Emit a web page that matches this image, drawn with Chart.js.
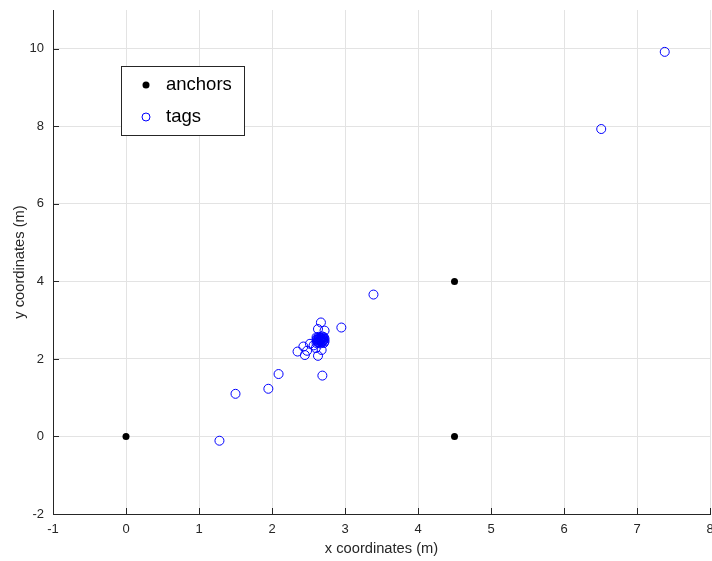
<!DOCTYPE html>
<html>
<head>
<meta charset="utf-8">
<title>anchors and tags</title>
<script src="https://cdn.jsdelivr.net/npm/chart.js@4/dist/chart.umd.min.js"></script>
<style>
  html, body { margin: 0; padding: 0; background: #fff; }
  #wrap { width: 712px; height: 561px; }
</style>
</head>
<body>
<div id="wrap"><canvas id="posChart" width="712" height="561"></canvas></div>
<script>
// Anchor positions (m)
const anchorX = [0, 4.5, 4.5];
const anchorY = [0, 0, 4];

// Tag estimates (m)
const tagX = [7.38, 6.51, 3.39, 2.95, 2.69, 2.09, 1.95, 1.50, 1.28,
    2.67, 2.63, 2.72, 2.43, 2.35, 2.45, 2.48, 2.52, 2.63, 2.68, 2.60, 2.57,
    // dense cluster
    2.61, 2.64, 2.66, 2.69, 2.71, 2.62, 2.65, 2.68, 2.70, 2.72,
    2.61, 2.63, 2.66, 2.68, 2.71, 2.62, 2.64, 2.67, 2.69, 2.72,
    2.61, 2.64, 2.66, 2.69, 2.71, 2.63, 2.65, 2.68, 2.70, 2.67];
const tagY = [9.92, 7.93, 3.66, 2.81, 1.57, 1.61, 1.23, 1.10, -0.11,
    2.94, 2.77, 2.73, 2.32, 2.19, 2.10, 2.21, 2.39, 2.08, 2.23, 2.28, 2.35,
    2.41, 2.42, 2.40, 2.43, 2.41, 2.45, 2.46, 2.44, 2.47, 2.45,
    2.49, 2.50, 2.48, 2.51, 2.49, 2.53, 2.52, 2.54, 2.53, 2.52,
    2.56, 2.57, 2.55, 2.58, 2.56, 2.43, 2.51, 2.47, 2.55, 2.50];

// Axis setup
const xMin = -1, xMax = 8, xStep = 1;
const yMin = -2, yMax = 11, yStep = 2;

const legendLabels = ['anchors', 'tags'];

const axisColor = '#262626';
const gridColor = '#e3e3e3';
const fontFamily = '"Liberation Sans", Arial, Helvetica, sans-serif';

function toPoints(xs, ys) {
    return xs.map((x, i) => ({ x: x, y: ys[i] }));
}

// MATLAB style inward tick marks
const innerTicks = {
    id: 'innerTicks',
    afterDatasetsDraw(chart) {
        const ctx = chart.ctx;
        const area = chart.chartArea;
        const xs = chart.scales.x, ys = chart.scales.y;
        ctx.save();
        ctx.strokeStyle = axisColor;
        ctx.lineWidth = 1;
        ctx.beginPath();
        xs.ticks.forEach(t => {
            const px = Math.round(xs.getPixelForValue(t.value)) + 0.5;
            ctx.moveTo(px, area.bottom);
            ctx.lineTo(px, area.bottom - 6);
        });
        ys.ticks.forEach(t => {
            const py = Math.round(ys.getPixelForValue(t.value)) + 0.5;
            ctx.moveTo(area.left, py);
            ctx.lineTo(area.left + 6, py);
        });
        ctx.stroke();
        ctx.restore();
    }
};

// Legend box inside the axes, upper left
const boxLegend = {
    id: 'boxLegend',
    afterDraw(chart) {
        const ctx = chart.ctx;
        const area = chart.chartArea;
        const left = area.left + 68, top = area.top + 56;
        const w = 123, h = 69;
        ctx.save();
        ctx.fillStyle = '#fff';
        ctx.fillRect(left, top, w, h);
        ctx.strokeStyle = axisColor;
        ctx.lineWidth = 1;
        ctx.strokeRect(left + 0.5, top + 0.5, w, h);

        // anchors entry
        ctx.fillStyle = '#000';
        ctx.beginPath();
        ctx.arc(left + 25, top + 19, 3.5, 0, Math.PI * 2);
        ctx.fill();
        // tags entry
        ctx.strokeStyle = '#0000ff';
        ctx.beginPath();
        ctx.arc(left + 25, top + 51, 4, 0, Math.PI * 2);
        ctx.stroke();

        ctx.fillStyle = '#000';
        ctx.font = '18.5px ' + fontFamily;
        ctx.textBaseline = 'middle';
        ctx.fillText(legendLabels[0], left + 45, top + 19);
        ctx.fillText(legendLabels[1], left + 45, top + 51);
        ctx.restore();
    }
};

function initPositionChart() {
    const ctx = document.getElementById('posChart');
    new Chart(ctx, {
        type: 'scatter',
        data: {
            datasets: [{
                label: legendLabels[0],
                data: toPoints(anchorX, anchorY),
                pointStyle: 'circle',
                pointRadius: 3.5,
                backgroundColor: '#000',
                borderColor: '#000',
                borderWidth: 0
            }, {
                label: legendLabels[1],
                data: toPoints(tagX, tagY),
                pointStyle: 'circle',
                pointRadius: 4.5,
                backgroundColor: 'rgba(0,0,0,0)',
                borderColor: '#0000ff',
                borderWidth: 1
            }]
        },
        options: {
            responsive: false,
            animation: false,
            layout: {
                autoPadding: false,
                padding: { top: 10, right: 2, left: 0, bottom: 0 }
            },
            plugins: {
                legend: { display: false },
                tooltip: { enabled: false }
            },
            scales: {
                x: {
                    type: 'linear',
                    min: xMin,
                    max: xMax,
                    afterFit: s => {
                        s.height = 47;
                        s.paddingLeft = 0;
                        s.paddingRight = 0;
                    },
                    grid: { color: gridColor, drawTicks: false },
                    border: { display: true, color: axisColor, width: 1 },
                    ticks: {
                        stepSize: xStep,
                        padding: 8,
                        color: axisColor,
                        font: { family: fontFamily, size: 13 }
                    },
                    title: {
                        display: true,
                        text: 'x coordinates (m)',
                        color: axisColor,
                        font: { family: fontFamily, size: 14.7 },
                        padding: { top: 0, bottom: 3 }
                    }
                },
                y: {
                    type: 'linear',
                    min: yMin,
                    max: yMax,
                    afterFit: s => {
                        s.width = 53;
                        s.paddingTop = 0;
                        s.paddingBottom = 0;
                    },
                    grid: { color: gridColor, drawTicks: false },
                    border: { display: true, color: axisColor, width: 1 },
                    ticks: {
                        stepSize: yStep,
                        includeBounds: false,
                        padding: 9,
                        color: axisColor,
                        font: { family: fontFamily, size: 13 }
                    },
                    title: {
                        display: true,
                        text: 'y coordinates (m)',
                        color: axisColor,
                        font: { family: fontFamily, size: 14.7 },
                        padding: { top: 11, bottom: 0 }
                    }
                }
            }
        },
        plugins: [innerTicks, boxLegend]
    });
}

document.addEventListener('DOMContentLoaded', function() {
    initPositionChart();
});
</script>
</body>
</html>
